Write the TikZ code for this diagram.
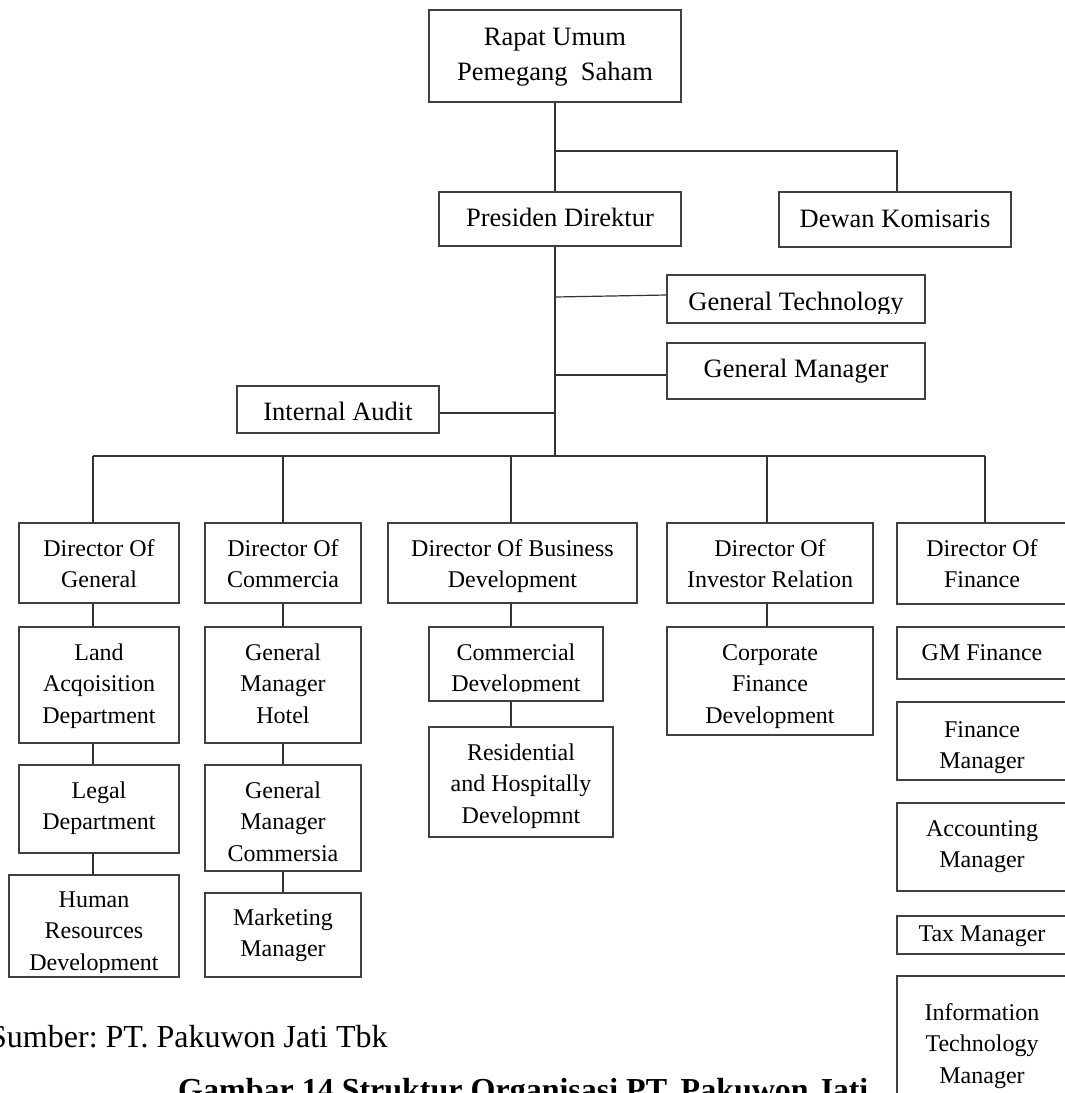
\documentclass[tikz,border=0pt]{standalone}
\usepackage{fontspec}
\setmainfont{Liberation Serif}
\frenchspacing

\tikzset{
  link/.style={draw=black!80, line width=1.2pt},
  orgbox/.style={draw=black!75, line width=1.2pt, fill=white, inner sep=0pt, rectangle},
  boxtext/.style={inner sep=0pt, align=center, anchor=north},
}
% two text sizes: unit boxes (A) and the top management boxes (B)
\newcommand\fA{\fontsize{24}{31.5}\selectfont}
\newcommand\fB{\fontsize{26.5}{35}\selectfont}
\newcommand\sA{\rule{0pt}{25pt}}
\newcommand\sB{\rule{0pt}{27pt}}

% \OrgBox{name}{x1}{y1}{x2}{y2}{text drop}{A|B}{bottom clip inset}{text}
\newcommand\OrgBox[9]{%
  \pgfmathsetmacro\obw{#4-#2}%
  \pgfmathsetmacro\obh{#5-#3}%
  \node[orgbox, minimum width=\obw pt, minimum height=\obh pt]
    (#1) at ({(#2+#4)/2},{(#3+#5)/2}) {};
  \begin{scope}
    \clip (#2,#3) rectangle (#4,{#5-#8});
    \node[boxtext, font=\csname f#7\endcsname] (#1-text)
      at ({(#2+#4)/2},{#3+#6}) {\csname s#7\endcsname#9};
  \end{scope}%
}

\begin{document}
\begin{tikzpicture}[x=1pt, y=-1pt]
\useasboundingbox (0,0) rectangle (1065,1093);
\clip (0,0) rectangle (1065,1093);

% ---- source line and caption
\node[anchor=base west, inner sep=0pt, font=\fontsize{32}{38}\selectfont] (sumber)
  at (-11,1047) {Sumber: PT. Pakuwon Jati Tbk};
\node[anchor=base west, inner sep=0pt, font=\fontsize{32}{38}\selectfont\bfseries] (gambar)
  at (178,1100) {Gambar 14 Struktur Organisasi PT. Pakuwon Jati};

% ---- top management
\OrgBox{rapat}{429}{10}{681}{102}{8}{B}{0}{Rapat Umum\\Pemegang\ \ Saham}
\OrgBox{presiden}{439}{192}{681}{246}{7}{B}{0}{Presiden Direktur}
\OrgBox{dewan}{779}{192}{1011}{247}{8}{B}{0}{Dewan Komisaris}
\OrgBox{gentech}{667}{275}{925}{323}{8}{B}{10}{General Technology}
\OrgBox{genman}{667}{343}{925}{399}{7}{B}{0}{General Manager}
\OrgBox{audit}{237}{386}{439}{433}{7}{B}{0}{Internal Audit}

% ---- directors
\OrgBox{dirgen}{19}{523}{179}{603}{8}{A}{0}{Director Of\\General}
\OrgBox{dircom}{205}{523}{361}{603}{8}{A}{0}{Director Of\\Commercia}
\OrgBox{dirbus}{388}{523}{637}{603}{8}{A}{0}{Director Of Business\\Development}
\OrgBox{dirinv}{667}{523}{873}{603}{8}{A}{0}{Director Of\\Investor Relation}
\OrgBox{dirfin}{897}{523}{1067}{604}{8}{A}{0}{Director Of\\Finance}

% ---- general affairs
\OrgBox{land}{19}{627}{179}{743}{8}{A}{0}{Land\\Acqoisition\\Department}
\OrgBox{legal}{19}{765}{179}{853}{8}{A}{0}{Legal\\Department}
\OrgBox{hr}{9}{875}{179}{977}{7}{A}{5}{Human\\Resources\\Development}

% ---- commercial
\OrgBox{gmhotel}{205}{627}{361}{743}{8}{A}{0}{General\\Manager\\Hotel}
\OrgBox{gmcom}{205}{765}{361}{871}{8}{A}{0}{General\\Manager\\Commersia}
\OrgBox{marketing}{205}{893}{361}{977}{7}{A}{0}{Marketing\\Manager}

% ---- business development
\OrgBox{comdev}{429}{627}{603}{701}{8}{A}{10}{Commercial\\Development}
\OrgBox{resdev}{429}{727}{613}{837}{8}{A}{0}{Residential\\and Hospitally\\Developmnt}

% ---- investor relation
\OrgBox{corpfin}{667}{627}{873}{735}{8}{A}{0}{Corporate\\Finance\\Development}

% ---- finance
\OrgBox{gmfin}{897}{627}{1067}{679}{8}{A}{0}{GM Finance}
\OrgBox{finman}{897}{702}{1067}{780}{10}{A}{0}{Finance\\Manager}
\OrgBox{accman}{897}{803}{1067}{891}{8}{A}{0}{Accounting\\Manager}
\OrgBox{taxman}{897}{916}{1067}{954}{0}{A}{0}{Tax Manager}
\OrgBox{itman}{897}{976}{1067}{1110}{19}{A}{0}{Information\\Technology\\Manager}

% ---- junctions of the connector tree
\coordinate (split) at (555,151);
\coordinate (gtA) at (555,297);
\coordinate (bar) at (555,456);
\coordinate (c1) at (93,456);
\coordinate (c2) at (283,456);
\coordinate (c3) at (511,456);
\coordinate (c4) at (767,456);
\coordinate (c5) at (985,456);
\coordinate (gmA) at ([yshift=-4pt]genman.west);
\coordinate (iaA) at ([yshift=-3.5pt]audit.east);

% ---- connectors
\draw[link] (rapat.south) -- (rapat.south |- presiden.north);
\draw[link] (split) -| ([xshift=2pt]dewan.north);
\draw[link] (rapat.south |- presiden.south) -- (bar);
\draw[link] (gtA) -- ([yshift=4pt]gentech.west);
\draw[link] (gmA -| rapat.south) -- (gmA);
\draw[link] (iaA) -- (iaA -| rapat.south);
\draw[link] (c1) -- (c5);
\foreach \c/\d in {c1/dirgen, c2/dircom, c3/dirbus, c4/dirinv, c5/dirfin}
  \draw[link] (\c) -- (\c |- \d.north);
\draw[link] (c1 |- dirgen.south) -- (c1 |- land.north);
\draw[link] (c1 |- land.south) -- (c1 |- legal.north);
\draw[link] (c1 |- legal.south) -- (c1 |- hr.north);
\draw[link] (c2 |- dircom.south) -- (c2 |- gmhotel.north);
\draw[link] (c2 |- gmhotel.south) -- (c2 |- gmcom.north);
\draw[link] (c2 |- gmcom.south) -- (c2 |- marketing.north);
\draw[link] (c3 |- dirbus.south) -- (c3 |- comdev.north);
\draw[link] (c3 |- comdev.south) -- (c3 |- resdev.north);
\draw[link] (c4 |- dirinv.south) -- (c4 |- corpfin.north);
\end{tikzpicture}
\end{document}
